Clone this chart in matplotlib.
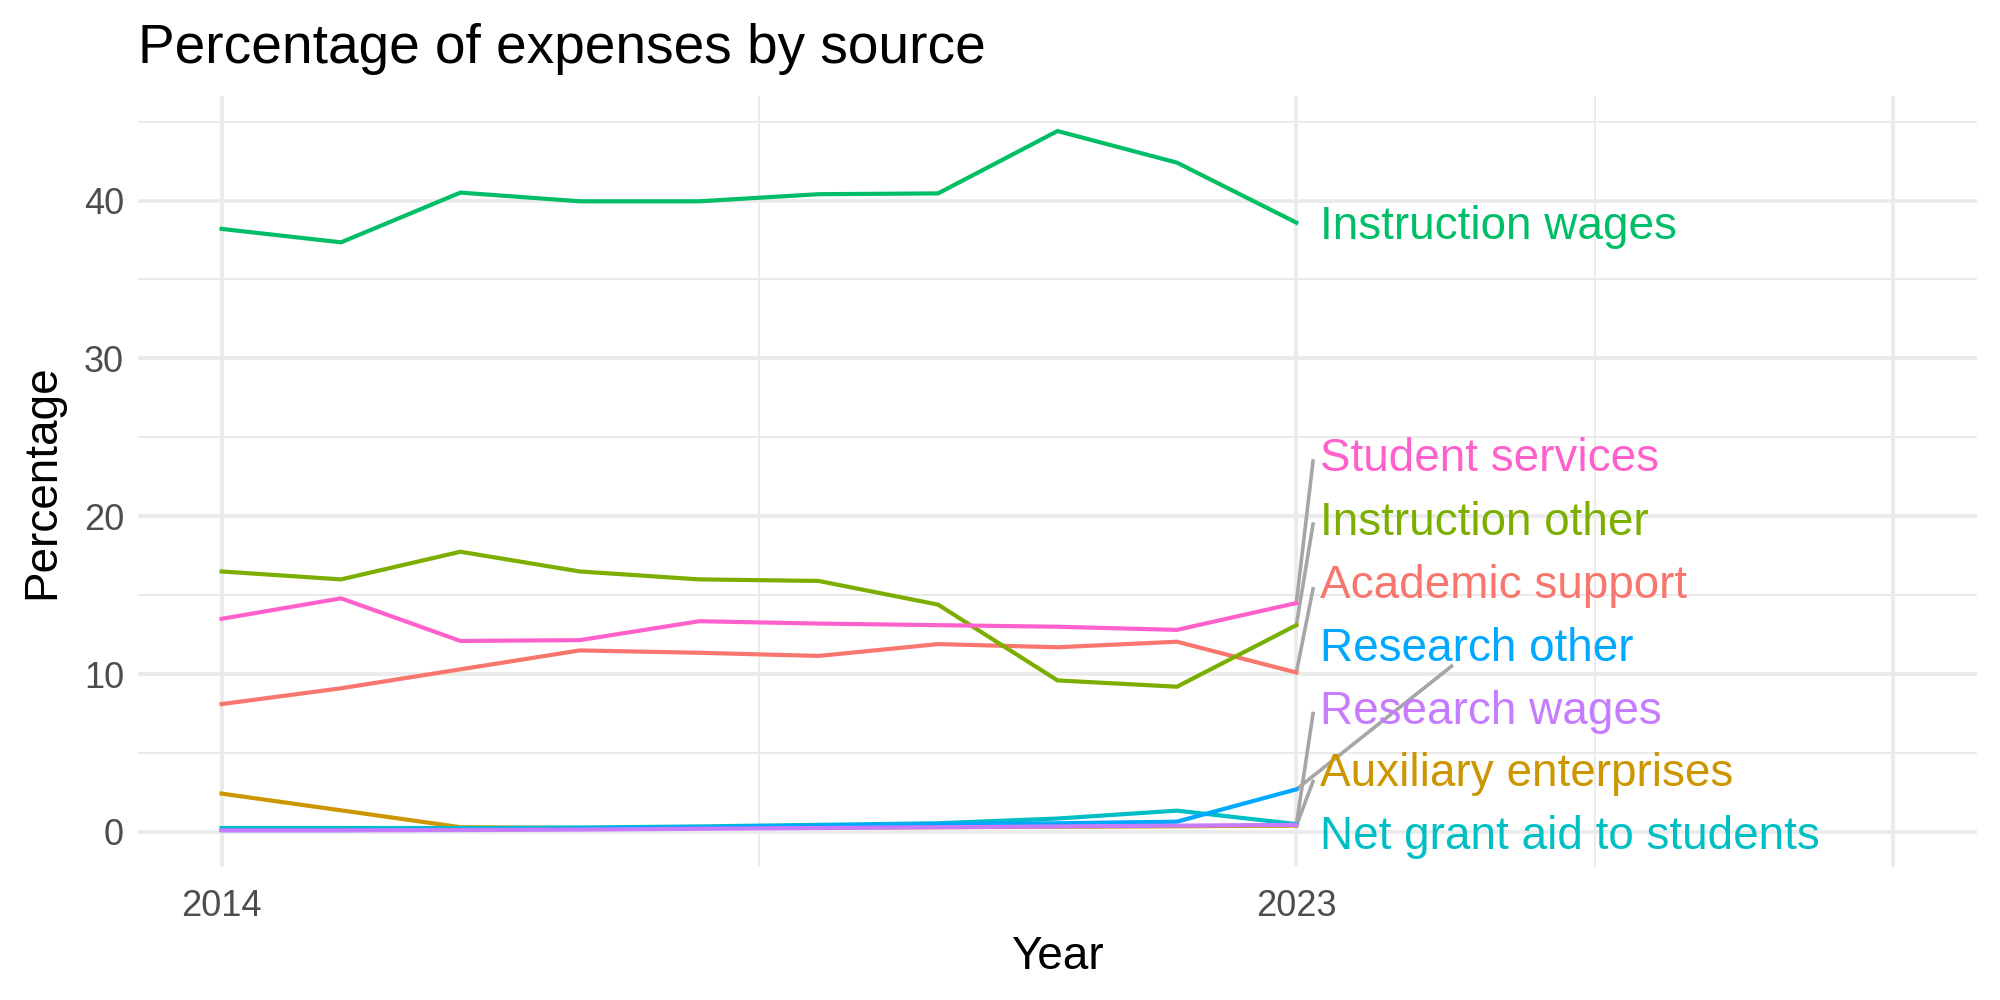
import matplotlib
matplotlib.use("Agg")
import matplotlib.pyplot as plt
from matplotlib.ticker import FixedLocator

plt.rcParams['font.family'] = ['Liberation Sans', 'DejaVu Sans']

# ---- data ----
years = [2014, 2015, 2016, 2017, 2018, 2019, 2020, 2021, 2022, 2023]

academic_support = [8.1, 9.1, 10.3, 11.5, 11.35, 11.15, 11.9, 11.7, 12.05, 10.1]
auxiliary = [2.43, 1.37, 0.3, 0.25, 0.25, 0.27, 0.3, 0.33, 0.36, 0.4]
instruction_other = [16.5, 16.0, 17.75, 16.5, 16.0, 15.9, 14.4, 9.6, 9.2, 13.1]
instruction_wages = [38.2, 37.35, 40.5, 39.95, 39.95, 40.4, 40.45, 44.4, 42.4, 38.6]
net_grant_aid = [0.25, 0.25, 0.25, 0.28, 0.35, 0.45, 0.55, 0.85, 1.35, 0.5]
research_other = [0.12, 0.12, 0.15, 0.2, 0.3, 0.4, 0.5, 0.55, 0.65, 2.7]
research_wages = [0.1, 0.1, 0.12, 0.15, 0.2, 0.25, 0.3, 0.35, 0.4, 0.45]
student_services = [13.5, 14.8, 12.1, 12.15, 13.35, 13.2, 13.1, 13.0, 12.8, 14.5]

series_names = ["Academic support", "Auxiliary enterprises", "Instruction other",
                "Instruction wages", "Net grant aid to students", "Research other",
                "Research wages", "Student services"]
series_values = [academic_support, auxiliary, instruction_other, instruction_wages,
                 net_grant_aid, research_other, research_wages, student_services]
colors = ["#F8766D", "#CD9600", "#7CAE00", "#00BE67",
          "#00BFC4", "#00A9FF", "#C77CFF", "#FF61CC"]

# repelled label positions (y) and where the leader segment ends
label_y = [15.6, 3.7, 19.6, 38.3, -0.3, 11.6, 7.6, 23.6]
seg_end = [(2023.14, 15.4), (2023.14, 3.2), (2023.14, 19.5), None,
           None, (2024.3, 10.5), (2023.14, 7.5), (2023.14, 23.5)]

# ---- plot ----
fig = plt.figure(figsize=(10, 5), dpi=200)
ax = fig.add_axes([0.069, 0.133, 0.9195, 0.771])

for vals, col in zip(series_values, colors):
    ax.plot(years, vals, color=col, linewidth=1.5, solid_joinstyle='miter', zorder=3)

for name, vals, col, ly, se in zip(series_names, series_values, colors, label_y, seg_end):
    if se is not None:
        ax.plot([years[-1], se[0]], [vals[-1], se[1]], color='#A6A6A6',
                linewidth=1.3, zorder=2)
    ax.text(2023.2, ly, name, color=col, fontsize=16.5, va='center', ha='left', zorder=4)

ax.set_xlim(2013.3, 2028.7)
ax.set_ylim(-2.22, 46.62)

ax.xaxis.set_major_locator(FixedLocator([2014, 2023, 2028]))
ax.set_xticklabels(["2014", "2023", ""])
ax.xaxis.set_minor_locator(FixedLocator([2018.5, 2025.5]))
ax.yaxis.set_major_locator(FixedLocator([0, 10, 20, 30, 40]))
ax.yaxis.set_minor_locator(FixedLocator([5, 15, 25, 35, 45]))

ax.grid(which='major', color='#EBEBEB', linewidth=1.4, zorder=0)
ax.grid(which='minor', color='#EBEBEB', linewidth=0.7, zorder=0)
ax.set_axisbelow(True)
for s in ax.spines.values():
    s.set_visible(False)
ax.tick_params(which='both', length=0, labelsize=13, labelcolor='#4D4D4D', pad=5)
ax.tick_params(axis='x', pad=8)

ax.set_xlabel("Year", fontsize=16.5, labelpad=4)
ax.set_ylabel("Percentage", fontsize=16.5, labelpad=7)
ax.set_title("Percentage of expenses by source", fontsize=19.8, loc='left', pad=12)

fig.savefig("out.png", dpi=200, facecolor='white')
